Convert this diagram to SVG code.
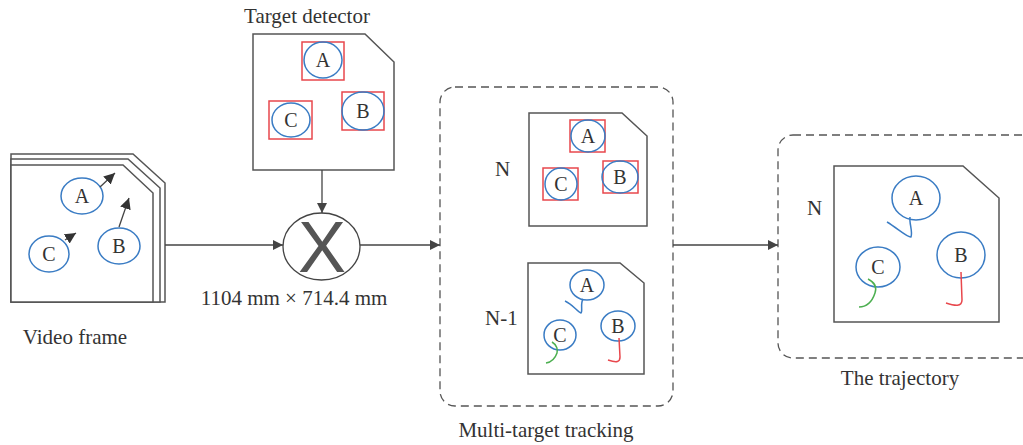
<svg xmlns="http://www.w3.org/2000/svg" width="1023" height="445" viewBox="0 0 1023 445">
<defs>
<marker id="ah" viewBox="0 0 10 10" refX="10" refY="5" markerWidth="10" markerHeight="10" markerUnits="userSpaceOnUse" orient="auto"><path d="M0,0 L10,5 L0,10 Z" fill="#444"/></marker>
<marker id="ahs" viewBox="0 0 10 10" refX="10" refY="5" markerWidth="11" markerHeight="11" markerUnits="userSpaceOnUse" orient="auto"><path d="M0,0 L10,5 L0,10 Z" fill="#333"/></marker>
</defs>
<style>
text{font-family:"Liberation Serif","Times New Roman",serif;fill:#333}
.lbl{font-size:21px}
.ltr{font-size:20px;text-anchor:middle}
.page{fill:#fff;stroke:#555;stroke-width:1.5}
.tgt{fill:none;stroke:#3a7cc4;stroke-width:1.5}
.box{fill:none;stroke:#e8474c;stroke-width:1.5}
.dash{fill:none;stroke:#555;stroke-width:1.3;stroke-dasharray:8 5}
.conn{fill:none;stroke:#444;stroke-width:1.3}
.trb{fill:none;stroke:#3a7cc4;stroke-width:1.5}
.trg{fill:none;stroke:#4caf50;stroke-width:1.5}
.trr{fill:none;stroke:#e8474c;stroke-width:1.5}
</style>
<rect width="1023" height="445" fill="#fff"/>

<g id="video-frame">
<path class="page" d="M11,154 L133,154 L165,183 L165,302 L11,302 Z"/>
<path class="page" d="M11,159 L128,159 L160,188 L160,302 L11,302 Z"/>
<path class="page" d="M11,165 L123,165 L153,193 L153,302 L11,302 Z"/>
<ellipse class="tgt" cx="82" cy="196" rx="21" ry="18"/>
<text class="ltr" x="82" y="203">A</text>
<ellipse class="tgt" cx="49" cy="254" rx="20" ry="18"/>
<text class="ltr" x="49" y="261">C</text>
<ellipse class="tgt" cx="119" cy="246" rx="21" ry="18"/>
<text class="ltr" x="119" y="253">B</text>
<line class="conn" x1="100" y1="187" x2="115" y2="173" marker-end="url(#ahs)"/>
<line class="conn" x1="119" y1="227" x2="129" y2="198" marker-end="url(#ahs)"/>
<line class="conn" x1="65" y1="240" x2="76" y2="233" marker-end="url(#ahs)"/>
<text class="lbl" x="75" y="344" text-anchor="middle">Video frame</text>
</g>

<g id="target-detector">
<text class="lbl" x="307" y="23" text-anchor="middle">Target detector</text>
<path class="page" d="M253,34 L365,34 L394,62 L394,170 L253,170 Z"/>
<rect class="box" x="302" y="42" width="42" height="38"/>
<ellipse class="tgt" cx="323" cy="60" rx="19" ry="18"/>
<text class="ltr" x="323" y="67">A</text>
<rect class="box" x="269" y="101" width="43" height="38"/>
<ellipse class="tgt" cx="291" cy="120" rx="19" ry="17"/>
<text class="ltr" x="291" y="127">C</text>
<rect class="box" x="342" y="92" width="42" height="38"/>
<ellipse class="tgt" cx="363" cy="111" rx="21" ry="19"/>
<text class="ltr" x="363" y="118">B</text>
</g>

<g id="combiner">
<ellipse cx="321.5" cy="246.5" rx="38.5" ry="33.5" fill="#fff" stroke="#444" stroke-width="1.3"/>
<text x="322" y="272" text-anchor="middle" style="font-family:'Liberation Sans',Arial,sans-serif;font-size:72px;fill:#555">X</text>
<text class="lbl" x="294" y="305" text-anchor="middle">1104 mm × 714.4 mm</text>
</g>

<g id="multi-target-tracking">
<rect class="dash" x="440" y="87" width="233" height="319" rx="15" ry="15"/>
<text class="lbl" x="495" y="176">N</text>
<path class="page" d="M529,113 L622,113 L647,136 L647,226 L529,226 Z"/>
<rect class="box" x="570" y="120" width="35" height="32"/>
<ellipse class="tgt" cx="588" cy="136" rx="17" ry="16"/>
<text class="ltr" x="588" y="143">A</text>
<rect class="box" x="543" y="168" width="35" height="32"/>
<ellipse class="tgt" cx="561" cy="184" rx="16" ry="16"/>
<text class="ltr" x="561" y="191">C</text>
<rect class="box" x="603" y="161" width="35" height="32"/>
<ellipse class="tgt" cx="620" cy="177" rx="18" ry="16"/>
<text class="ltr" x="620" y="184">B</text>

<text class="lbl" x="485" y="325">N-1</text>
<path class="page" d="M528,263 L620,263 L644,283 L644,374 L528,374 Z"/>
<ellipse class="tgt" cx="587" cy="285" rx="17" ry="15"/>
<text class="ltr" x="587" y="292">A</text>
<path class="trb" d="M583,299 C580,304 583,311 581,313 C578,312 572,304 565,301"/>
<ellipse class="tgt" cx="560" cy="335" rx="16" ry="15"/>
<text class="ltr" x="560" y="342">C</text>
<path class="trg" d="M552,342 C557,345 558,350 557,353 C555,359 552,362 546,363"/>
<ellipse class="tgt" cx="618" cy="326" rx="17" ry="15"/>
<text class="ltr" x="618" y="333">B</text>
<path class="trr" d="M619,338 L620,357 C620,362 617,363 608,360"/>
<text class="lbl" x="546" y="437" text-anchor="middle">Multi-target tracking</text>
</g>

<g id="trajectory">
<rect class="dash" x="778" y="135" width="260" height="223" rx="15" ry="15"/>
<text class="lbl" x="807" y="215">N</text>
<path class="page" d="M834,166 L963,166 L999,198 L999,322 L834,322 Z"/>
<ellipse class="tgt" cx="916" cy="198" rx="24" ry="22"/>
<text class="ltr" x="916" y="205">A</text>
<path class="trb" d="M910,217 C909,223 913,232 911,237 C908,238 897,228 887,222"/>
<ellipse class="tgt" cx="878" cy="267" rx="22" ry="20"/>
<text class="ltr" x="878" y="274">C</text>
<path class="trg" d="M868,279 C874,282 877,287 875,293 C872,302 866,307 859,307"/>
<ellipse class="tgt" cx="961" cy="255" rx="24" ry="23"/>
<text class="ltr" x="961" y="262">B</text>
<path class="trr" d="M961,272 L962,300 C962,307 955,306 946,303"/>
<text class="lbl" x="900" y="385" text-anchor="middle">The trajectory</text>
</g>

<g id="connectors">
<line class="conn" x1="165" y1="245" x2="283" y2="245" marker-end="url(#ah)"/>
<line class="conn" x1="322" y1="170" x2="322" y2="213" marker-end="url(#ah)"/>
<line class="conn" x1="360" y1="245" x2="440" y2="245" marker-end="url(#ah)"/>
<line class="conn" x1="673" y1="245" x2="778" y2="245" marker-end="url(#ah)"/>
</g>
</svg>
